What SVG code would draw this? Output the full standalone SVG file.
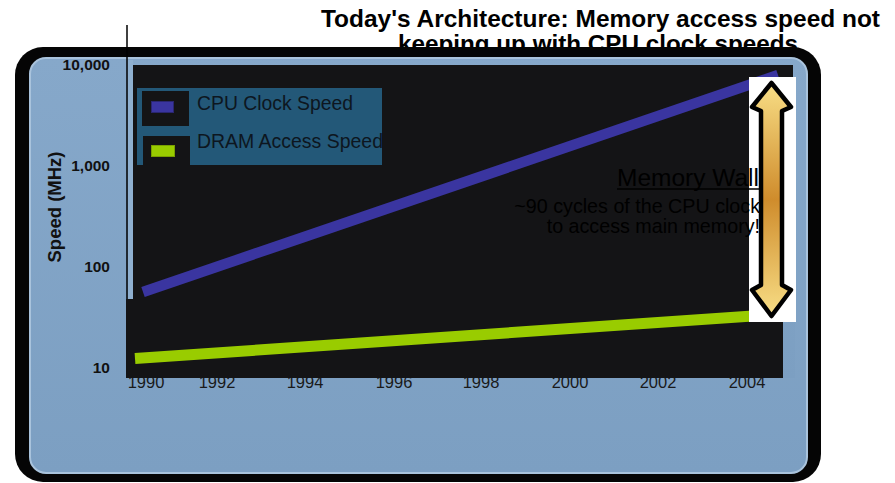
<svg xmlns="http://www.w3.org/2000/svg" width="895" height="483" viewBox="0 0 895 483">
<defs>
<style>
.title{font-family:"Liberation Sans",Arial,sans-serif;font-weight:bold;font-size:24px;fill:#000;text-anchor:middle}
.ylab{font-family:"Liberation Sans",Arial,sans-serif;font-weight:bold;font-size:15.5px;fill:#111;text-anchor:end}
.xlab{font-family:"Liberation Sans",Arial,sans-serif;font-size:16.5px;fill:#1a1a1a;text-anchor:middle}
.leg{font-family:"Liberation Sans",Arial,sans-serif;font-size:19.3px;fill:#0d1620}
.note{font-family:"Liberation Sans",Arial,sans-serif;fill:#000;text-anchor:end}
</style>
<linearGradient id="frameG" x1="0" y1="0" x2="0" y2="1">
<stop offset="0" stop-color="#86a8ca"/>
<stop offset="1" stop-color="#7c9fc2"/>
</linearGradient>
<linearGradient id="goldV" x1="0" y1="0" x2="0" y2="1">
<stop offset="0" stop-color="#f8de86"/>
<stop offset="0.5" stop-color="#cf8c2c"/>
<stop offset="1" stop-color="#f8de86"/>
</linearGradient>
</defs>

<g id="title">
<text class="title" x="600.5" y="27" textLength="559" lengthAdjust="spacingAndGlyphs">Today's Architecture: Memory access speed not</text>
<text class="title" x="598" y="52" textLength="400" lengthAdjust="spacingAndGlyphs">keeping up with CPU clock speeds</text>
</g>

<g id="frame">
<rect x="15" y="47" width="806" height="435" rx="28" fill="#050505"/>
<rect x="30" y="58" width="777" height="415" rx="16" fill="url(#frameG)" stroke="#a9c3dc" stroke-width="2"/>
</g>

<g id="x-axis">
<text class="xlab" x="146" y="388">1990</text>
<text class="xlab" x="217" y="388">1992</text>
<text class="xlab" x="305" y="388">1994</text>
<text class="xlab" x="394" y="388">1996</text>
<text class="xlab" x="481" y="388">1998</text>
<text class="xlab" x="570" y="388">2000</text>
<text class="xlab" x="658" y="388">2002</text>
<text class="xlab" x="747" y="388">2004</text>
</g>

<g id="plot">
<rect x="133" y="65" width="660" height="313" fill="#141416"/>
<rect x="126" y="299" width="657" height="79" fill="#141416"/>
<rect x="783" y="77" width="12" height="301" fill="url(#frameG)"/>
<rect x="128" y="60" width="5" height="239" fill="#8fb0d0"/>
<line x1="127" y1="25" x2="127" y2="299" stroke="#000" stroke-width="1.5"/>
</g>

<g id="y-axis">
<text class="ylab" x="110" y="70">10,000</text>
<text class="ylab" x="110" y="171">1,000</text>
<text class="ylab" x="110" y="272">100</text>
<text class="ylab" x="110" y="373">10</text>
<text class="ylab" transform="translate(61,207) rotate(-90)" style="font-size:18.5px;text-anchor:middle">Speed (MHz)</text>
</g>

<g id="series">
<line x1="143" y1="292" x2="778" y2="75" stroke="#3a35a0" stroke-width="10.5"/>
<line x1="135" y1="358.5" x2="760" y2="315.5" stroke="#99cc00" stroke-width="11"/>
</g>

<g id="legend">
<rect x="137" y="88" width="245" height="77" fill="#235878"/>
<rect x="142" y="91" width="47" height="35" fill="#141416"/>
<rect x="143" y="136" width="47" height="29" fill="#141416"/>
<rect x="151.5" y="101.5" width="22" height="11" fill="#3a35a0" stroke="#2a2670" stroke-width="1"/>
<rect x="151.5" y="145.5" width="23" height="11" fill="#99cc00" stroke="#7aa000" stroke-width="1"/>
<text class="leg" x="197" y="110" textLength="156" lengthAdjust="spacingAndGlyphs">CPU Clock Speed</text>
<text class="leg" x="197" y="148" textLength="186" lengthAdjust="spacingAndGlyphs">DRAM Access Speed</text>
</g>

<g id="memory-wall">
<rect x="749" y="77" width="47" height="245" fill="#ffffff"/>
<path d="M771.5,83 L791,107 L782,111 L782,285 L791,290 L771.5,316 L752,290 L761,285 L761,111 L752,107 Z" fill="url(#goldV)" stroke="#000" stroke-width="4.5" stroke-linejoin="round"/>
<text class="note" x="759" y="186" style="font-size:23px" textLength="142" lengthAdjust="spacingAndGlyphs">Memory Wall</text>
<line x1="617" y1="189" x2="760" y2="189" stroke="#000" stroke-width="1.5"/>
<text class="note" x="760" y="213" style="font-size:19.7px">~90 cycles of the CPU clock</text>
<text class="note" x="760" y="233" style="font-size:19.7px">to access main memory!</text>
</g>
</svg>
